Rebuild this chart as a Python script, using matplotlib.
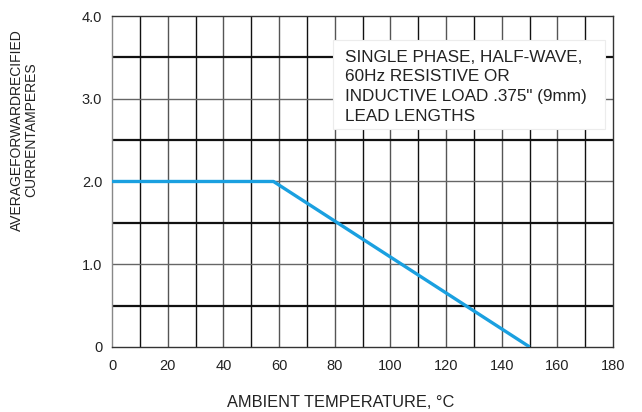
import matplotlib
matplotlib.use("Agg")
import matplotlib.pyplot as plt
from matplotlib.patches import Rectangle

plt.rcParams['font.family'] = ['Liberation Sans', 'DejaVu Sans']

# data
temp = [0, 58, 150]
current = [2.0, 2.0, 0.0]
x_ticks = [0, 20, 40, 60, 80, 100, 120, 140, 160, 180]
y_ticks = [0, 1.0, 2.0, 3.0, 4.0]
y_tick_labels = ["0", "1.0", "2.0", "3.0", "4.0"]
note = "SINGLE PHASE, HALF-WAVE,\n60Hz RESISTIVE OR\nINDUCTIVE LOAD .375\" (9mm)\nLEAD LENGTHS"

fig = plt.figure(figsize=(6.42, 4.12), dpi=100)
ax = fig.add_axes([0.1745, 0.158, 0.7805, 0.803])
ax.set_xlim(0, 180)
ax.set_ylim(0, 4.0)

# grid
for xv in range(10, 180, 10):
    c = '#555555' if xv % 20 == 0 else '#111111'
    ax.axvline(xv, color=c, lw=1.0, zorder=1)
for yv in [0.5, 1.0, 1.5, 2.0, 2.5, 3.0, 3.5]:
    if abs(yv - round(yv)) < 1e-9:
        ax.axhline(yv, color='#666666', lw=1.0, zorder=1)
    else:
        ax.axhline(yv, color='#111111', lw=1.6, zorder=1)

# note box
ax.add_patch(Rectangle((79.5, 2.63), 97.5, 1.08, facecolor='white',
                       edgecolor='#ececec', lw=0.8, zorder=2))
ax.text(83.6, 3.145, note, fontsize=12.3, color='#222222', va='center', ha='left',
        linespacing=1.4, zorder=3)

ax.plot(temp, current, color='#1aa0e0', lw=2.4, zorder=4, solid_capstyle='butt')

ax.set_xticks(x_ticks)
ax.set_yticks(y_ticks)
ax.set_yticklabels(y_tick_labels)
ax.tick_params(length=0, labelsize=10.5, colors='#222222')
ax.tick_params(axis='x', pad=9)
ax.tick_params(axis='y', pad=7)

ax.spines['left'].set_color('#888888')
ax.spines['bottom'].set_color('#333333')
ax.spines['top'].set_color('#333333')
ax.spines['right'].set_color('#333333')
for s in ax.spines.values():
    s.set_linewidth(1.0)

fig.text(0.038, 0.685, "AVERAGEFORWARDRECIFIED\nCURRENTAMPERES", rotation=90,
         ha='center', va='center', fontsize=10, color='#222222', linespacing=1.05)
fig.text(0.53, 0.024, "AMBIENT TEMPERATURE, °C", ha='center', va='center',
         fontsize=11.8, color='#222222')

fig.savefig("out.png", dpi=100)
